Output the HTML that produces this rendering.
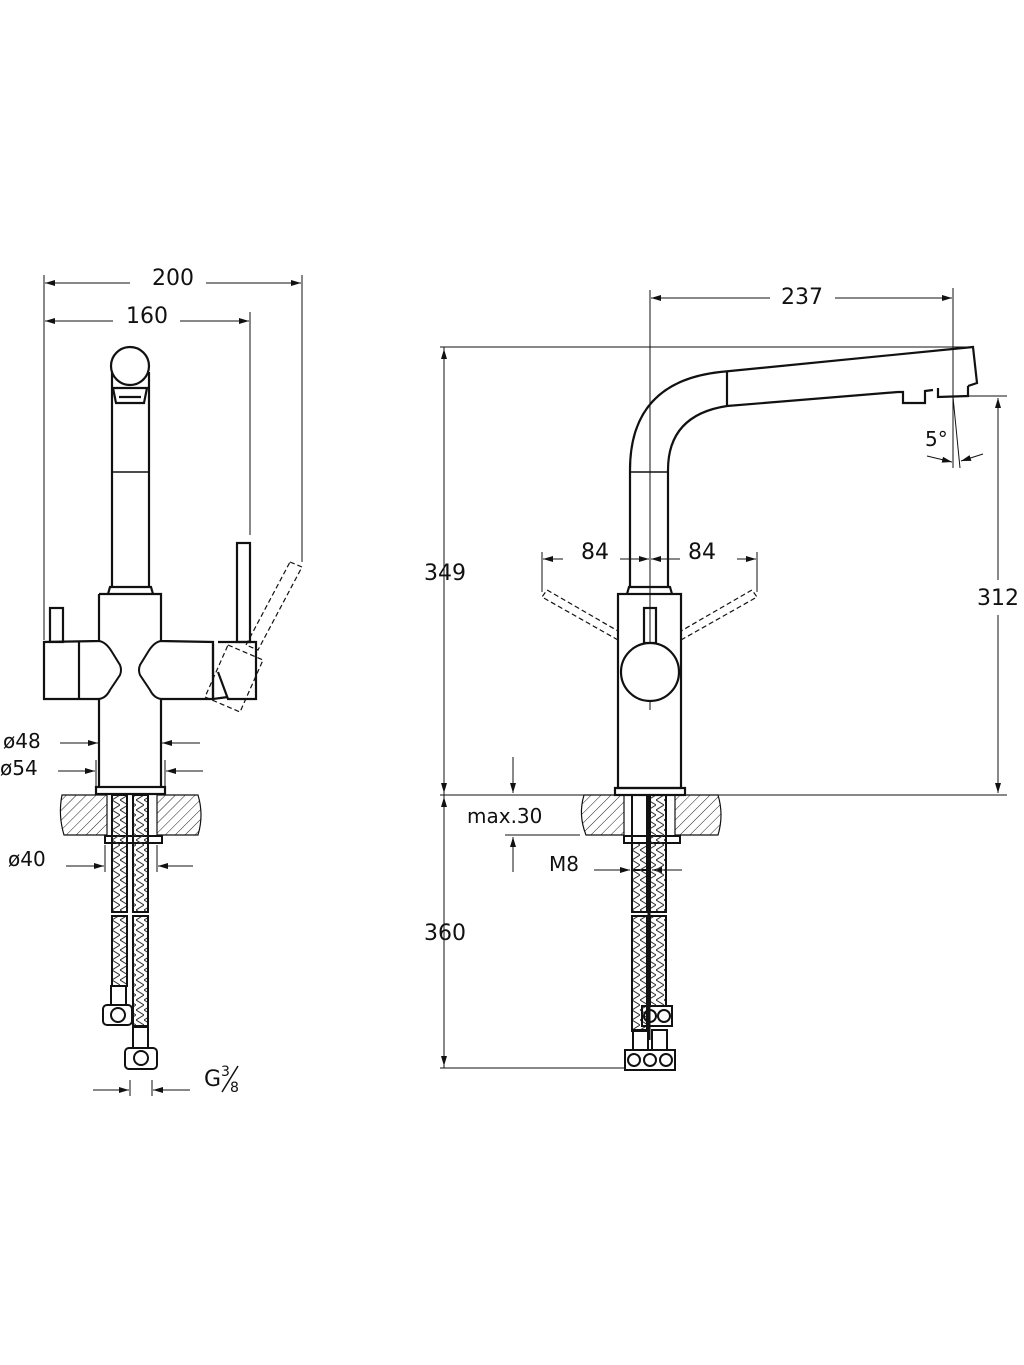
<!DOCTYPE html>
<html><head><meta charset="utf-8"><style>
html,body{margin:0;padding:0;background:#fff}
svg{display:block}
text{font-family:"DejaVu Sans","Liberation Sans",sans-serif;fill:#111}
</style></head><body>
<svg width="1024" height="1365" viewBox="0 0 1024 1365" xmlns="http://www.w3.org/2000/svg">
<defs>
<pattern id="h" width="7" height="7" patternUnits="userSpaceOnUse" patternTransform="rotate(45)"><line x1="0" y1="0" x2="0" y2="7" stroke="#222" stroke-width="1"/></pattern>
<pattern id="hz" width="8" height="10" patternUnits="userSpaceOnUse"><path d="M0 0 L8 5 M8 5 L0 10" stroke="#333" stroke-width="1" fill="none"/></pattern>
<marker id="a" viewBox="0 0 10 6" refX="10" refY="3" markerWidth="10" markerHeight="6" markerUnits="userSpaceOnUse" orient="auto"><path d="M0 0 L10 3 L0 6z" fill="#111"/></marker>
</defs>
<g stroke="#111" fill="none" stroke-width="1">
<!-- LEFT dims -->
<line x1="44" y1="275" x2="44" y2="640"/>
<line x1="302" y1="275" x2="302" y2="562"/>
<line x1="250" y1="312" x2="250" y2="535"/>
<line x1="130" y1="283" x2="45" y2="283" marker-end="url(#a)"/>
<line x1="206" y1="283" x2="301" y2="283" marker-end="url(#a)"/>
<line x1="113" y1="321" x2="45" y2="321" marker-end="url(#a)"/>
<line x1="180" y1="321" x2="249" y2="321" marker-end="url(#a)"/>
</g>
<text x="173" y="285" font-size="22" text-anchor="middle">200</text>
<text x="147" y="323" font-size="22" text-anchor="middle">160</text>
<g stroke="#111" fill="none" stroke-width="2.2">
<!-- left faucet -->
<circle cx="130" cy="366" r="19"/>
<path d="M113 388 L147 388 L144 403 L116 403 Z"/>
<line x1="119" y1="397" x2="141" y2="397"/>
<line x1="112" y1="372" x2="112" y2="587"/>
<line x1="149" y1="372" x2="149" y2="587"/>
<line x1="112" y1="472" x2="149" y2="472" stroke-width="1.5"/>
<path d="M108 594 L110 587 L151 587 L153 594"/>
<path d="M99 594 L161 594 L161 641 L213 642 L213 699 L161 699 L161 787"/>
<path d="M99 594 L99 641 L44 642 L44 699 L99 699 L99 787"/>
<line x1="79" y1="642" x2="79" y2="699"/>
<path d="M99 641 Q106 642 112 652 L120 665 Q122 670 120 675 L110 690 Q106 698 99 699" stroke-width="2"/>
<path d="M161 641 Q154 642 148 652 L140 665 Q138 670 140 675 L150 690 Q154 698 161 699" stroke-width="2"/>
<rect x="50" y="608" width="13" height="34"/>
<rect x="237" y="543" width="13" height="99"/>
<path d="M218 642 L256 642 L256 699 L228 699 L218 672"/>
<path d="M213 644 L213 699 L228 697"/>
<rect x="96" y="787" width="69" height="7"/>
</g>
<g stroke="#111" fill="none" stroke-width="1.2" stroke-dasharray="5,3">
<path d="M290 562 L302 567 L258 650 L246 645 Z"/>
<path d="M228 645 L263 660 L240 712 L205 697 Z"/>
</g>
<!-- left dims lower -->
<g stroke="#111" stroke-width="1" fill="none">
<line x1="60" y1="743" x2="98" y2="743" marker-end="url(#a)"/>
<line x1="200" y1="743" x2="162" y2="743" marker-end="url(#a)"/>
<line x1="58" y1="771" x2="95" y2="771" marker-end="url(#a)"/>
<line x1="203" y1="771" x2="166" y2="771" marker-end="url(#a)"/>
<line x1="96" y1="760" x2="96" y2="787"/><line x1="165" y1="760" x2="165" y2="787"/>
<line x1="66" y1="866" x2="104" y2="866" marker-end="url(#a)"/>
<line x1="193" y1="866" x2="158" y2="866" marker-end="url(#a)"/>
<line x1="105" y1="845" x2="105" y2="872"/><line x1="157" y1="845" x2="157" y2="872"/>
<line x1="93" y1="1090" x2="129" y2="1090" marker-end="url(#a)"/>
<line x1="190" y1="1090" x2="153" y2="1090" marker-end="url(#a)"/>
<line x1="130" y1="1080" x2="130" y2="1096"/><line x1="152" y1="1080" x2="152" y2="1096"/>
</g>
<text x="3" y="748" font-size="20">ø48</text>
<text x="0" y="775" font-size="20">ø54</text>
<text x="8" y="866" font-size="20">ø40</text>
<text x="204" y="1086" font-size="22">G</text>
<text x="221" y="1076" font-size="14">3</text>
<line x1="222" y1="1092" x2="238" y2="1066" stroke="#111" stroke-width="1.5"/>
<text x="230" y="1092" font-size="14">8</text>
<!-- left counter -->
<path d="M62 795 L107 795 L107 835 L64 835 Q58 815 62 795Z" fill="url(#h)" stroke="#111" stroke-width="1.2"/>
<path d="M157 795 L198 795 Q204 815 198 835 L157 835Z" fill="url(#h)" stroke="#111" stroke-width="1.2"/>
<g stroke="#111" stroke-width="2" fill="none">
<rect x="105" y="836" width="57" height="7"/>
<rect x="112" y="795" width="15" height="117" fill="url(#hz)"/>
<rect x="133" y="795" width="15" height="117" fill="url(#hz)"/>
<rect x="112" y="916" width="15" height="70" fill="url(#hz)"/>
<rect x="133" y="916" width="15" height="110" fill="url(#hz)"/>
<rect x="111" y="986" width="15" height="19"/>
<rect x="103" y="1005" width="29" height="20" rx="4"/>
<circle cx="118" cy="1015" r="7"/>
<rect x="133" y="1027" width="15" height="21"/>
<rect x="125" y="1048" width="32" height="21" rx="4"/>
<circle cx="141" cy="1058" r="7"/>
</g>
<!-- RIGHT view dims -->
<g stroke="#111" stroke-width="1" fill="none">
<line x1="440" y1="347" x2="973" y2="347"/>
<line x1="444" y1="347" x2="444" y2="1068"/>
<line x1="440" y1="795" x2="1007" y2="795"/>
<line x1="444" y1="545" x2="444" y2="349" marker-end="url(#a)"/>
<line x1="444" y1="600" x2="444" y2="793" marker-end="url(#a)"/>
<line x1="444" y1="910" x2="444" y2="797" marker-end="url(#a)"/>
<line x1="444" y1="955" x2="444" y2="1066" marker-end="url(#a)"/>
<line x1="440" y1="1068" x2="625" y2="1068"/>
<line x1="650" y1="290" x2="650" y2="710"/>
<line x1="953" y1="288" x2="953" y2="468"/>
<line x1="770" y1="298" x2="651" y2="298" marker-end="url(#a)"/>
<line x1="835" y1="298" x2="952" y2="298" marker-end="url(#a)"/>
<line x1="953" y1="396" x2="1007" y2="396"/>
<line x1="998" y1="580" x2="998" y2="398" marker-end="url(#a)"/>
<line x1="998" y1="615" x2="998" y2="793" marker-end="url(#a)"/>
<line x1="953" y1="397" x2="960" y2="468"/>
<line x1="927" y1="456" x2="952" y2="462" marker-end="url(#a)"/>
<line x1="983" y1="454" x2="961" y2="461" marker-end="url(#a)"/>
<line x1="542" y1="552" x2="542" y2="592"/>
<line x1="757" y1="552" x2="757" y2="592"/>
<line x1="563" y1="559" x2="543" y2="559" marker-end="url(#a)"/>
<line x1="620" y1="559" x2="649" y2="559" marker-end="url(#a)"/>
<line x1="680" y1="559" x2="651" y2="559" marker-end="url(#a)"/>
<line x1="737" y1="559" x2="756" y2="559" marker-end="url(#a)"/>
<line x1="513" y1="757" x2="513" y2="793" marker-end="url(#a)"/>
<line x1="505" y1="835" x2="580" y2="835"/>
<line x1="513" y1="872" x2="513" y2="837" marker-end="url(#a)"/>
<line x1="594" y1="870" x2="630" y2="870" marker-end="url(#a)"/>
<line x1="682" y1="870" x2="652" y2="870" marker-end="url(#a)"/>
</g>
<text x="445" y="580" font-size="22" text-anchor="middle">349</text>
<text x="445" y="940" font-size="22" text-anchor="middle">360</text>
<text x="802" y="304" font-size="22" text-anchor="middle">237</text>
<text x="998" y="605" font-size="22" text-anchor="middle">312</text>
<text x="595" y="559" font-size="22" text-anchor="middle">84</text>
<text x="702" y="559" font-size="22" text-anchor="middle">84</text>
<text x="925" y="446" font-size="20">5°</text>
<text x="467" y="823" font-size="20">max.30</text>
<text x="549" y="871" font-size="20">M8</text>
<!-- right faucet -->
<g stroke="#111" fill="none" stroke-width="2.2">
<path d="M630 587 L630 470 Q630 382 720 372 L973 347 L977 383 L968 386"/>
<path d="M668 587 L668 470 Q668 415 727 406 L898 392"/>
<line x1="727" y1="371" x2="727" y2="406"/>
<line x1="630" y1="472" x2="668" y2="472" stroke-width="1.5"/>
<path d="M898 392 L903 392 L903 403 L925 403 L925 391 L933 390"/>
<path d="M938 388 L938 397 L968 396 L968 386"/>
<path d="M627 594 L629 587 L670 587 L672 594"/>
<rect x="618" y="594" width="63" height="194"/>
<rect x="644" y="608" width="12" height="35"/>
<circle cx="650" cy="672" r="29" fill="#fff"/>
<rect x="615" y="788" width="70" height="7"/>
</g>
<g stroke="#111" fill="none" stroke-width="1.2" stroke-dasharray="5,3">
<path d="M618 640 L542 597 L547 590 L618 631"/>
<path d="M681 640 L757 597 L752 590 L681 631"/>
</g>
<path d="M584 795 L624 795 L624 835 L586 835 Q578 815 584 795Z" fill="url(#h)" stroke="#111" stroke-width="1.2"/>
<path d="M675 795 L718 795 Q724 815 718 835 L675 835Z" fill="url(#h)" stroke="#111" stroke-width="1.2"/>
<g stroke="#111" stroke-width="2" fill="none">
<rect x="624" y="836" width="56" height="7"/>
<rect x="632" y="795" width="15" height="75"/>
<rect x="650" y="795" width="16" height="117" fill="url(#hz)"/>
<rect x="632" y="843" width="15" height="69" fill="url(#hz)"/>
<rect x="632" y="916" width="15" height="115" fill="url(#hz)"/>
<rect x="650" y="916" width="16" height="90" fill="url(#hz)"/>
<line x1="649" y1="795" x2="649" y2="1040" stroke-width="3"/>
<rect x="642" y="1006" width="30" height="20"/>
<circle cx="650" cy="1016" r="6"/><circle cx="664" cy="1016" r="6"/>
<rect x="633" y="1030" width="15" height="20"/><rect x="652" y="1030" width="15" height="20"/>
<rect x="625" y="1050" width="50" height="20"/>
<circle cx="634" cy="1060" r="6"/><circle cx="650" cy="1060" r="6"/><circle cx="666" cy="1060" r="6"/>
</g>
</svg>
</body></html>
